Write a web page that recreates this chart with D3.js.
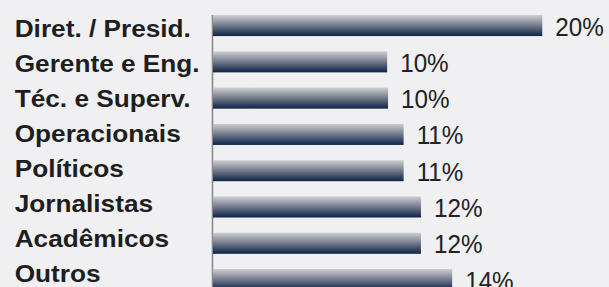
<!DOCTYPE html>
<html>
<head>
<meta charset="utf-8">
<script src="https://cdn.jsdelivr.net/npm/d3@7"></script>
<style>
html, body { margin: 0; padding: 0; background: #f0f0f2; }
svg { display: block; }
</style>
</head>
<body>
<script>
const categories = ["Diret. / Presid.", "Gerente e Eng.", "Téc. e Superv.", "Operacionais", "Políticos", "Jornalistas", "Acadêmicos", "Outros"];
const values = [19.0, 10.05, 10.1, 11.0, 11.0, 12.0, 12.0, 13.8];
const valueLabels = ["20%", "10%", "10%", "11%", "11%", "12%", "12%", "14%"];

const W = 609, H = 287;
const svg = d3.select("body").append("svg").attr("width", W).attr("height", H);
svg.append("rect").attr("width", W).attr("height", H).attr("fill", "#f0f0f2");

const defs = svg.append("defs");
const grad = defs.append("linearGradient").attr("id", "barGrad")
  .attr("x1", 0).attr("y1", 0).attr("x2", 0).attr("y2", 1);
grad.append("stop").attr("offset", "0%").attr("stop-color", "#cdcfd1");
grad.append("stop").attr("offset", "45%").attr("stop-color", "#7c8292");
grad.append("stop").attr("offset", "100%").attr("stop-color", "#0b2347");

const x = d3.scaleLinear().domain([0, 20]).range([213, 213 + 346.6]);
const y = d3.scaleBand().domain(categories).range([7.4, 297.7])
  .paddingInner(0.42).paddingOuter(0.21);
const yLabel = d3.scalePoint().domain(categories).range([37.3, 282.3]);

// axis line
svg.append("line")
  .attr("x1", 212.5).attr("x2", 212.5)
  .attr("y1", y(categories[0])).attr("y2", H)
  .attr("stroke", "#8a8a8a").attr("stroke-width", 1.6);

svg.selectAll("rect.bar").data(categories).join("rect")
  .attr("class", "bar")
  .attr("x", x(0))
  .attr("y", d => y(d))
  .attr("width", (d, i) => x(values[i]) - x(0))
  .attr("height", y.bandwidth())
  .attr("fill", "url(#barGrad)");

svg.selectAll("text.val").data(categories).join("text")
  .attr("class", "val")
  .attr("transform", (d, i) => `translate(${x(values[i]) + 13},${y(d) + y.bandwidth() - 0.5}) scale(0.97,1.05)`)
  .attr("font-family", "Liberation Sans, Arial, sans-serif")
  .attr("font-size", 25)
  .attr("fill", "#222")
  .text((d, i) => valueLabels[i]);

svg.selectAll("text.cat").data(categories).join("text")
  .attr("class", "cat")
  .attr("transform", d => `translate(14.7,${yLabel(d)}) scale(1.07,1)`)
  .attr("font-family", "Liberation Sans, Arial, sans-serif")
  .attr("font-weight", "bold")
  .attr("font-size", 24.5)
  .attr("fill", "#1e1e1e")
  .text(d => d);
</script>
</body>
</html>
